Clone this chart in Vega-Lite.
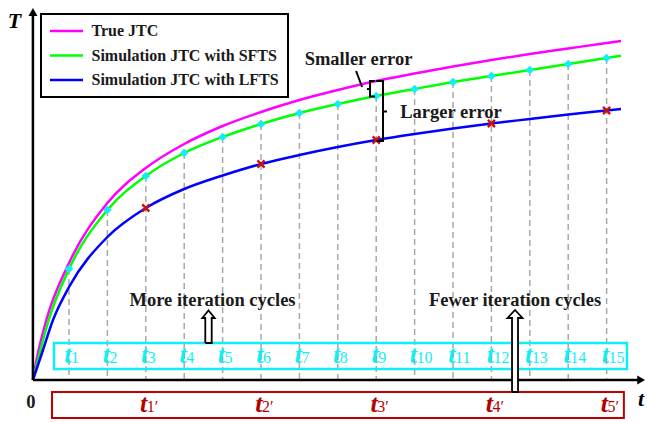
{
  "$schema": "https://vega.github.io/schema/vega-lite/v6.json",
  "width": 647,
  "height": 422,
  "autosize": {"type": "none"},
  "padding": 0,
  "background": "white",
  "config": {
    "view": {"stroke": null},
    "legend": {
      "orient": "none",
      "legendX": 41,
      "legendY": 14,
      "strokeColor": "black",
      "strokeWidth": 2,
      "fillColor": "white",
      "padding": 9,
      "symbolType": "M-3,0H3",
      "symbolSize": 121,
      "symbolStrokeWidth": 2.5,
      "symbolOffset": 8.5,
      "labelOffset": 17,
      "labelFont": "Liberation Serif",
      "labelFontWeight": "bold",
      "labelFontSize": 16,
      "labelColor": "#1a1a1a",
      "labelLimit": 400,
      "rowPadding": 8.5
    }
  },
  "datasets": {
    "curves": [
      {"series": "True JTC", "t": 0.06, "T": 0},
      {"series": "True JTC", "t": 0.154, "T": 2.0},
      {"series": "True JTC", "t": 0.409, "T": 6.0},
      {"series": "True JTC", "t": 1, "T": 11.7},
      {"series": "True JTC", "t": 2, "T": 17.7},
      {"series": "True JTC", "t": 3, "T": 21.2},
      {"series": "True JTC", "t": 4, "T": 23.6},
      {"series": "True JTC", "t": 5, "T": 25.4},
      {"series": "True JTC", "t": 6, "T": 26.8},
      {"series": "True JTC", "t": 7, "T": 28.0},
      {"series": "True JTC", "t": 8, "T": 29.0},
      {"series": "True JTC", "t": 9, "T": 29.9},
      {"series": "True JTC", "t": 10, "T": 30.65},
      {"series": "True JTC", "t": 11, "T": 31.35},
      {"series": "True JTC", "t": 12, "T": 32.0},
      {"series": "True JTC", "t": 13, "T": 32.6},
      {"series": "True JTC", "t": 14, "T": 33.15},
      {"series": "True JTC", "t": 15, "T": 33.7},
      {"series": "True JTC", "t": 15.375, "T": 33.9},
      {"series": "Simulation JTC with SFTS", "t": 0.06, "T": 0},
      {"series": "Simulation JTC with SFTS", "t": 0.237, "T": 2.7},
      {"series": "Simulation JTC with SFTS", "t": 0.471, "T": 6.0},
      {"series": "Simulation JTC with SFTS", "t": 1, "T": 11.1},
      {"series": "Simulation JTC with SFTS", "t": 2, "T": 17.0},
      {"series": "Simulation JTC with SFTS", "t": 3, "T": 20.4},
      {"series": "Simulation JTC with SFTS", "t": 4, "T": 22.7},
      {"series": "Simulation JTC with SFTS", "t": 5, "T": 24.3},
      {"series": "Simulation JTC with SFTS", "t": 6, "T": 25.6},
      {"series": "Simulation JTC with SFTS", "t": 7, "T": 26.7},
      {"series": "Simulation JTC with SFTS", "t": 8, "T": 27.6},
      {"series": "Simulation JTC with SFTS", "t": 9, "T": 28.4},
      {"series": "Simulation JTC with SFTS", "t": 10, "T": 29.1},
      {"series": "Simulation JTC with SFTS", "t": 11, "T": 29.8},
      {"series": "Simulation JTC with SFTS", "t": 12, "T": 30.4},
      {"series": "Simulation JTC with SFTS", "t": 13, "T": 31.0},
      {"series": "Simulation JTC with SFTS", "t": 14, "T": 31.6},
      {"series": "Simulation JTC with SFTS", "t": 15, "T": 32.2},
      {"series": "Simulation JTC with SFTS", "t": 15.375, "T": 32.42},
      {"series": "Simulation JTC with LFTS", "t": 0.06, "T": 0},
      {"series": "Simulation JTC with LFTS", "t": 0.297, "T": 2.7},
      {"series": "Simulation JTC with LFTS", "t": 0.583, "T": 6.0},
      {"series": "Simulation JTC with LFTS", "t": 1, "T": 9.3},
      {"series": "Simulation JTC with LFTS", "t": 2, "T": 14.3},
      {"series": "Simulation JTC with LFTS", "t": 3, "T": 17.2},
      {"series": "Simulation JTC with LFTS", "t": 4, "T": 19.1},
      {"series": "Simulation JTC with LFTS", "t": 5, "T": 20.45},
      {"series": "Simulation JTC with LFTS", "t": 6, "T": 21.6},
      {"series": "Simulation JTC with LFTS", "t": 7, "T": 22.5},
      {"series": "Simulation JTC with LFTS", "t": 8, "T": 23.3},
      {"series": "Simulation JTC with LFTS", "t": 9, "T": 24.0},
      {"series": "Simulation JTC with LFTS", "t": 10, "T": 24.6},
      {"series": "Simulation JTC with LFTS", "t": 11, "T": 25.15},
      {"series": "Simulation JTC with LFTS", "t": 12, "T": 25.65},
      {"series": "Simulation JTC with LFTS", "t": 13, "T": 26.1},
      {"series": "Simulation JTC with LFTS", "t": 14, "T": 26.55},
      {"series": "Simulation JTC with LFTS", "t": 15, "T": 26.95},
      {"series": "Simulation JTC with LFTS", "t": 15.375, "T": 27.1}
    ],
    "fine": [
      {"t": 1, "T": 11.1, "n": "1"},
      {"t": 2, "T": 17.0, "n": "2"},
      {"t": 3, "T": 20.4, "n": "3"},
      {"t": 4, "T": 22.7, "n": "4"},
      {"t": 5, "T": 24.3, "n": "5"},
      {"t": 6, "T": 25.6, "n": "6"},
      {"t": 7, "T": 26.7, "n": "7"},
      {"t": 8, "T": 27.6, "n": "8"},
      {"t": 9, "T": 28.4, "n": "9"},
      {"t": 10, "T": 29.1, "n": "10"},
      {"t": 11, "T": 29.8, "n": "11"},
      {"t": 12, "T": 30.4, "n": "12"},
      {"t": 13, "T": 31.0, "n": "13"},
      {"t": 14, "T": 31.6, "n": "14"},
      {"t": 15, "T": 32.2, "n": "15"}
    ],
    "coarse": [
      {"t": 3, "T": 17.2, "n": "1′"},
      {"t": 6, "T": 21.6, "n": "2′"},
      {"t": 9, "T": 24.0, "n": "3′"},
      {"t": 12, "T": 25.65, "n": "4′"},
      {"t": 15, "T": 26.95, "n": "5′"}
    ],
    "boxes": [
      {"box": "fine", "t": 0.609, "t2": 15.53, "T": 3.7, "T2": 1.1},
      {"box": "coarse", "t": 0.557, "t2": 15.45, "T": -1.2, "T2": -3.8}
    ],
    "frame": [
      {"t": 0.06, "t2": 15.85, "T": 0, "T2": 0},
      {"t": 0.06, "t2": 0.06, "T": 0, "T2": 36.5}
    ],
    "heads": [
      {"t": 0.06, "T": 36.8, "dir": "up"},
      {"t": 15.9, "T": 0, "dir": "right"}
    ],
    "notes": [
      {"t": 8.539, "T": 31.5, "label": "Smaller error"},
      {"t": 10.948, "T": 26.2, "label": "Larger error"},
      {"t": 4.737, "T": 7.4, "label": "More iteration cycles"},
      {"t": 12.615, "T": 7.4, "label": "Fewer iteration cycles"},
      {"t": 0.01, "T": -2.8, "label": "0"}
    ],
    "axisNames": [
      {"t": -0.419, "T": 35.2, "label": "T"},
      {"t": 15.896, "T": -2.6, "label": "t"}
    ],
    "brackets": [
      {"seg": "L", "ord": 1, "t": 9.0, "T": 29.9},
      {"seg": "L", "ord": 2, "t": 9.177, "T": 29.9},
      {"seg": "L", "ord": 3, "t": 9.177, "T": 23.9},
      {"seg": "L", "ord": 4, "t": 9.0, "T": 23.9},
      {"seg": "Lm", "ord": 1, "t": 9.177, "T": 26.85},
      {"seg": "Lm", "ord": 2, "t": 9.281, "T": 26.85},
      {"seg": "S", "ord": 1, "t": 8.97, "T": 29.9},
      {"seg": "S", "ord": 2, "t": 8.839, "T": 29.9},
      {"seg": "S", "ord": 3, "t": 8.839, "T": 28.35},
      {"seg": "S", "ord": 4, "t": 8.97, "T": 28.35},
      {"seg": "Sm", "ord": 1, "t": 8.839, "T": 29.1},
      {"seg": "Sm", "ord": 2, "t": 8.76, "T": 29.1},
      {"seg": "P", "ord": 1, "t": 8.477, "T": 30.9},
      {"seg": "P", "ord": 2, "t": 8.633, "T": 29.3}
    ],
    "arrows": [
      {"arrow": "more", "ord": 1, "t": 4.549, "T": 3.7},
      {"arrow": "more", "ord": 2, "t": 4.549, "T": 6.2},
      {"arrow": "more", "ord": 3, "t": 4.471, "T": 6.2},
      {"arrow": "more", "ord": 4, "t": 4.633, "T": 6.95},
      {"arrow": "more", "ord": 5, "t": 4.794, "T": 6.2},
      {"arrow": "more", "ord": 6, "t": 4.716, "T": 6.2},
      {"arrow": "more", "ord": 7, "t": 4.716, "T": 3.7},
      {"arrow": "more", "ord": 8, "t": 4.549, "T": 3.7},
      {"arrow": "fewer", "ord": 1, "t": 12.537, "T": -1.2},
      {"arrow": "fewer", "ord": 2, "t": 12.537, "T": 6.2},
      {"arrow": "fewer", "ord": 3, "t": 12.42, "T": 6.2},
      {"arrow": "fewer", "ord": 4, "t": 12.615, "T": 7.0},
      {"arrow": "fewer", "ord": 5, "t": 12.81, "T": 6.2},
      {"arrow": "fewer", "ord": 6, "t": 12.693, "T": 6.2},
      {"arrow": "fewer", "ord": 7, "t": 12.693, "T": -1.2},
      {"arrow": "fewer", "ord": 8, "t": 12.537, "T": -1.2}
    ]
  },
  "encoding": {
    "x": {"field": "t", "type": "quantitative", "scale": {"domain": [-0.797, 16.052], "nice": false, "zero": false}, "axis": null},
    "y": {"field": "T", "type": "quantitative", "scale": {"domain": [-4.2, 38], "nice": false, "zero": false}, "axis": null}
  },
  "layer": [
    {
      "data": {"name": "fine"},
      "mark": {"type": "rule", "color": "#a8a8a8", "strokeWidth": 1.5, "strokeDash": [6, 4]},
      "encoding": {"y2": {"datum": 0}}
    },
    {
      "data": {"name": "boxes"},
      "transform": [{"filter": "datum.box === 'fine'"}],
      "mark": {"type": "rect", "filled": false, "stroke": "#12EEF5", "strokeWidth": 2.5},
      "encoding": {"x2": {"field": "t2"}, "y2": {"field": "T2"}}
    },
    {
      "data": {"name": "boxes"},
      "transform": [{"filter": "datum.box === 'coarse'"}],
      "mark": {"type": "rect", "filled": false, "stroke": "#C00000", "strokeWidth": 2},
      "encoding": {"x2": {"field": "t2"}, "y2": {"field": "T2"}}
    },
    {
      "data": {"name": "curves"},
      "mark": {"type": "line", "strokeWidth": 2.5, "interpolate": "monotone"},
      "encoding": {
        "color": {
          "field": "series",
          "type": "nominal",
          "sort": ["True JTC", "Simulation JTC with SFTS", "Simulation JTC with LFTS"],
          "scale": {"domain": ["True JTC", "Simulation JTC with SFTS", "Simulation JTC with LFTS"], "range": ["#FF00FF", "#00FF00", "#0000FF"]},
          "legend": {"title": null}
        }
      }
    },
    {
      "data": {"name": "fine"},
      "mark": {"type": "point", "shape": "diamond", "filled": true, "size": 75, "color": "#12EEF5", "opacity": 1}
    },
    {
      "data": {"name": "coarse"},
      "mark": {"type": "point", "shape": "M-1,-1L1,1M-1,1L1,-1", "filled": false, "size": 50, "color": "#CC1010", "strokeWidth": 2.4, "opacity": 1}
    },
    {
      "data": {"name": "fine"},
      "mark": {"type": "text", "text": "t", "align": "right", "baseline": "alphabetic", "dx": 2.5, "font": "Liberation Serif", "fontStyle": "italic", "fontWeight": "bold", "fontSize": 26, "color": "#12EEF5"},
      "encoding": {"y": {"datum": 1.7, "type": "quantitative", "scale": {"domain": [-4.2, 38], "nice": false, "zero": false}}}
    },
    {
      "data": {"name": "fine"},
      "mark": {"type": "text", "align": "left", "baseline": "alphabetic", "dx": 2, "font": "Liberation Serif", "fontSize": 16, "color": "#12EEF5"},
      "encoding": {"text": {"field": "n"}, "y": {"datum": 1.7, "type": "quantitative", "scale": {"domain": [-4.2, 38], "nice": false, "zero": false}}}
    },
    {
      "data": {"name": "coarse"},
      "mark": {"type": "text", "text": "t", "align": "right", "baseline": "alphabetic", "dx": 1.5, "font": "Liberation Serif", "fontStyle": "italic", "fontWeight": "bold", "fontSize": 26, "color": "#B40000"},
      "encoding": {"y": {"datum": -3.2, "type": "quantitative", "scale": {"domain": [-4.2, 38], "nice": false, "zero": false}}}
    },
    {
      "data": {"name": "coarse"},
      "mark": {"type": "text", "align": "left", "baseline": "alphabetic", "dx": 1, "font": "Liberation Serif", "fontSize": 16, "color": "#B40000"},
      "encoding": {"text": {"field": "n"}, "y": {"datum": -3.2, "type": "quantitative", "scale": {"domain": [-4.2, 38], "nice": false, "zero": false}}}
    },
    {
      "data": {"name": "notes"},
      "mark": {"type": "text", "align": "center", "baseline": "alphabetic", "font": "Liberation Serif", "fontWeight": "bold", "fontSize": 18.5, "color": "#1a1a1a"},
      "encoding": {"text": {"field": "label"}}
    },
    {
      "data": {"name": "axisNames"},
      "mark": {"type": "text", "align": "center", "baseline": "alphabetic", "font": "Liberation Serif", "fontWeight": "bold", "fontStyle": "italic", "fontSize": 22, "color": "black"},
      "encoding": {"text": {"field": "label"}}
    },
    {
      "data": {"name": "brackets"},
      "mark": {"type": "line", "color": "black", "strokeWidth": 2, "interpolate": "linear"},
      "encoding": {"detail": {"field": "seg"}, "order": {"field": "ord"}}
    },
    {
      "data": {"name": "frame"},
      "mark": {"type": "rule", "color": "black", "strokeWidth": 2.5},
      "encoding": {"x2": {"field": "t2"}, "y2": {"field": "T2"}}
    },
    {
      "data": {"name": "arrows"},
      "mark": {"type": "line", "stroke": "black", "fill": "white", "strokeWidth": 1.8, "interpolate": "linear", "strokeJoin": "miter"},
      "encoding": {"detail": {"field": "arrow"}, "order": {"field": "ord"}}
    },
    {
      "data": {"name": "heads"},
      "mark": {"type": "point", "filled": true, "size": 81, "color": "black", "opacity": 1},
      "encoding": {
        "shape": {"field": "dir", "type": "nominal", "scale": {"domain": ["up", "right"], "range": ["triangle-up", "triangle-right"]}, "legend": null}
      }
    }
  ]
}
